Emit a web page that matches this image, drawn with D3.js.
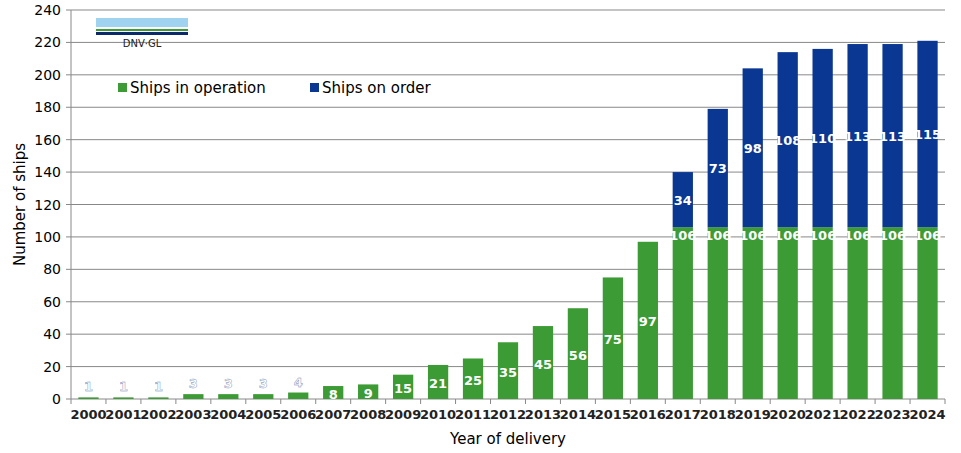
<!DOCTYPE html>
<html><head><meta charset="utf-8">
<script src="https://cdn.jsdelivr.net/npm/d3@7"></script>
<style>body{margin:0;background:#fff}text{font-family:Verdana,"DejaVu Sans",sans-serif}</style>
</head><body><svg id="c" width="961" height="453"></svg>
<script>
const years=["2000","2001","2002","2003","2004","2005","2006","2007","2008","2009","2010","2011","2012","2013","2014","2015","2016","2017","2018","2019","2020","2021","2022","2023","2024"];
const inOperation=[1,1,1,3,3,3,4,8,9,15,21,25,35,45,56,75,97,106,106,106,106,106,106,106,106];
const onOrder=[0,0,0,0,0,0,0,0,0,0,0,0,0,0,0,0,0,34,73,98,108,110,113,113,115];
const yTicks=[0,20,40,60,80,100,120,140,160,180,200,220,240];
const svg=d3.select("#c");
const L=71,R=945,T=10,B=399;
const x=d3.scaleBand().domain(years).range([L,R]).paddingInner(0.42).paddingOuter(0.21);
const y=d3.scaleLinear().domain([0,240]).range([B,T]);
const g=svg.append("g");
g.selectAll(".gl").data(yTicks.filter(d=>d>0)).join("line").attr("x1",L).attr("x2",R).attr("y1",d=>y(d)).attr("y2",d=>y(d)).attr("stroke","#888").attr("stroke-width",1);
g.append("line").attr("x1",L).attr("x2",L).attr("y1",T).attr("y2",B).attr("stroke","#888");
g.append("line").attr("x1",L).attr("x2",R).attr("y1",B).attr("y2",B).attr("stroke","#888");
yTicks.forEach(d=>{g.append("line").attr("x1",L-5).attr("x2",L).attr("y1",y(d)).attr("y2",y(d)).attr("stroke","#888");
 g.append("text").attr("x",L-10).attr("y",y(d)+5).attr("text-anchor","end").attr("font-size",14).text(d);});
const step=x.step();
years.forEach((yr,i)=>{const xs=L+i*(R-L)/years.length;g.append("line").attr("x1",xs).attr("x2",xs).attr("y1",B).attr("y2",B+5).attr("stroke","#888");});
g.append("line").attr("x1",R).attr("x2",R).attr("y1",B).attr("y2",B+5).attr("stroke","#888");
g.selectAll(".xl").data(years).join("text").attr("x",d=>x(d)+x.bandwidth()/2).attr("y",B+20).attr("text-anchor","middle").attr("font-size",13).attr("font-weight","bold").attr("fill","#222").text(d=>d);
const bw=x.bandwidth();
g.selectAll(".op").data(years).join("rect").attr("x",d=>x(d)).attr("width",bw).attr("y",(d,i)=>y(inOperation[i])).attr("height",(d,i)=>B-y(inOperation[i])).attr("fill","#3d9b35");
g.selectAll(".or").data(years).join("rect").attr("x",d=>x(d)).attr("width",bw).attr("y",(d,i)=>y(inOperation[i]+onOrder[i])).attr("height",(d,i)=>y(inOperation[i])-y(inOperation[i]+onOrder[i])).attr("fill","#0a3791");
years.forEach((yr,i)=>{const v=inOperation[i];const cx=x(yr)+bw/2;
 let ty=v<7?y(v)-6:(y(v)+B)/2+6; if(v>100)ty=y(v)+13;
 const t=g.append("text").attr("x",cx).attr("y",ty).attr("text-anchor","middle").attr("font-size",13).attr("font-weight","bold").attr("fill","#fff").text(v);
 if(v<7)t.attr("stroke","#6a7fb0").attr("stroke-width",0.4);
 if(onOrder[i]>0){const o=onOrder[i];g.append("text").attr("x",cx).attr("y",(y(v)+y(v+o))/2+5).attr("text-anchor","middle").attr("font-size",13).attr("font-weight","bold").attr("fill","#fff").text(o);}
});
svg.append("text").attr("transform",`translate(25,${(T+B)/2}) rotate(-90)`).attr("text-anchor","middle").attr("font-size",15).text("Number of ships");
svg.append("text").attr("x",(L+R)/2).attr("y",444).attr("text-anchor","middle").attr("font-size",15).text("Year of delivery");
// logo
svg.append("rect").attr("x",96).attr("y",18).attr("width",92).attr("height",9).attr("fill","#9fd3ef");
svg.append("rect").attr("x",96).attr("y",29).attr("width",92).attr("height",2).attr("fill","#3d9b35");
svg.append("rect").attr("x",96).attr("y",32).attr("width",92).attr("height",3).attr("fill","#0a2a6b");
svg.append("text").attr("x",142).attr("y",47).attr("text-anchor","middle").attr("font-size",10).attr("fill","#222").text("DNV·GL");
// legend
svg.append("rect").attr("x",118).attr("y",83).attr("width",9).attr("height",9).attr("fill","#3d9b35");
svg.append("text").attr("x",130).attr("y",93).attr("font-size",15).text("Ships in operation");
svg.append("rect").attr("x",310).attr("y",83).attr("width",9).attr("height",9).attr("fill","#0a3791");
svg.append("text").attr("x",322).attr("y",93).attr("font-size",15).text("Ships on order");
</script></body></html>
